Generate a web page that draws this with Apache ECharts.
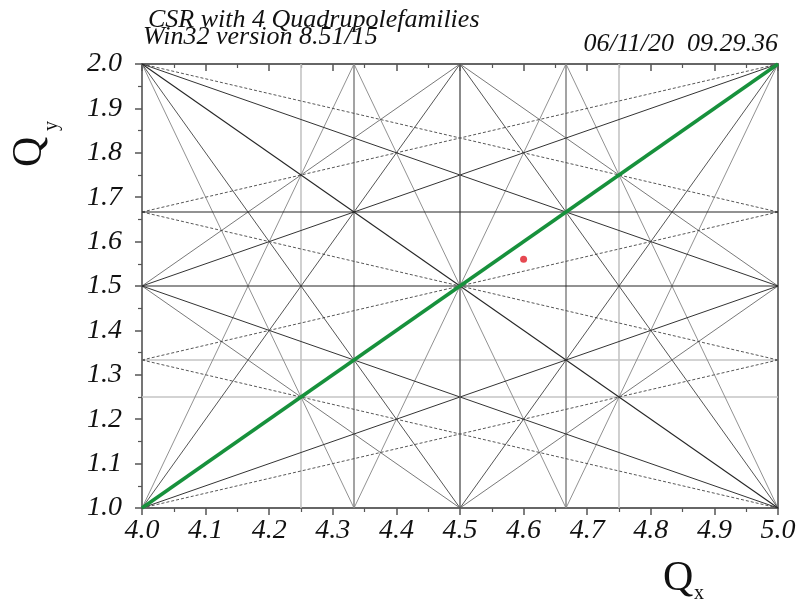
<!DOCTYPE html>
<html>
<head>
<meta charset="utf-8">
<script src="https://cdn.jsdelivr.net/npm/echarts@6.0.0/dist/echarts.min.js"></script>
<style>
  html, body { margin: 0; padding: 0; background: #ffffff; }
  #chart { width: 803px; height: 606px; }
</style>
</head>
<body>
<div id="chart"></div>
<script>
// Tune window shown in the diagram
const qxRange = [4.0, 5.0];
const qyRange = [1.0, 2.0];
const tickStep = 0.1;

// Resonance lines m*Qx + n*Qy = p, grouped by how they are drawn
const darkLines = [[2, 0, 9], [0, 2, 3], [0, 3, 5], [1, 1, 6]];
const thirdOrderVerticals = [[3, 0, 13], [3, 0, 14]];
const paleLines = [[4, 0, 17], [4, 0, 19], [0, 4, 5], [0, 3, 4]];
const qxTwoQyLines = [[1, 2, 7], [1, 2, 8], [1, -2, 1], [1, -2, 2]];
const twoQxQyLines = [[2, 1, 10], [2, 1, 11], [2, -1, 7], [2, -1, 8]];
const diamondLines = [[2, 2, 11], [2, 2, 13], [2, -2, 5], [2, -2, 7]];
const threeQxQyLines = [[3, 1, 14], [3, 1, 15], [3, 1, 16], [3, -1, 11], [3, -1, 12], [3, -1, 13]];
const qxThreeQyLines = [[1, 3, 8], [1, 3, 9], [1, 3, 10], [1, -3, -1], [1, -3, 0], [1, -3, 1]];
const couplingLine = [[1, -1, 3]];

// Working point
const workingPoint = [[4.6, 1.56]];

// Header texts
const titleText = 'CSR with 4 Quadrupolefamilies';
const versionText = 'Win32 version 8.51/15';
const stampText = '06/11/20  09.29.36';

// Segment of a resonance line inside the tune window
function clipResonance(m, n, p) {
  const pts = [];
  const eps = 1e-9;
  if (n !== 0) {
    qxRange.forEach(function (x) {
      const y = (p - m * x) / n;
      if (y >= qyRange[0] - eps && y <= qyRange[1] + eps) pts.push([x, y]);
    });
  }
  if (m !== 0) {
    qyRange.forEach(function (y) {
      const x = (p - n * y) / m;
      if (x >= qxRange[0] - eps && x <= qxRange[1] + eps) pts.push([x, y]);
    });
  }
  const uniq = [];
  pts.forEach(function (pt) {
    if (!uniq.some(function (u) { return Math.abs(u[0] - pt[0]) < 1e-6 && Math.abs(u[1] - pt[1]) < 1e-6; })) uniq.push(pt);
  });
  return uniq.length >= 2 ? [uniq[0], uniq[1]] : null;
}

const series = [];
function addFamily(lines, style, z) {
  lines.forEach(function (c) {
    const seg = clipResonance(c[0], c[1], c[2]);
    if (!seg) return;
    series.push({
      type: 'line',
      data: seg,
      symbol: 'none',
      silent: true,
      animation: false,
      z: z,
      lineStyle: style
    });
  });
}

addFamily(paleLines, { color: '#c4c4c4', width: 1.6 }, 1);
addFamily(thirdOrderVerticals, { color: '#858585', width: 1.5 }, 2);
addFamily(threeQxQyLines, { color: '#858585', width: 0.9 }, 3);
addFamily(diamondLines, { color: '#6a6a6a', width: 0.9 }, 3);
addFamily(twoQxQyLines, { color: '#555555', width: 1 }, 3);
addFamily(qxTwoQyLines, { color: '#333333', width: 1 }, 3);
addFamily(qxThreeQyLines, { color: '#444444', width: 0.9, type: [3, 2] }, 3);
addFamily(darkLines.slice(0, 1), { color: '#5a5a5a', width: 1.4 }, 4);
addFamily(darkLines.slice(1), { color: '#262626', width: 1.1 }, 4);
addFamily(couplingLine, { color: '#17913c', width: 3.6 }, 6);

series.push({
  type: 'scatter',
  data: workingPoint,
  symbol: 'circle',
  symbolSize: 7,
  silent: true,
  animation: false,
  z: 8,
  itemStyle: { color: '#e01a26' }
});

const serifItalic = { fontFamily: 'Liberation Serif', fontStyle: 'italic', color: '#111111' };
const frameLine = { show: true, onZero: false, lineStyle: { color: '#666666', width: 1.8 } };

const chart = echarts.init(document.getElementById('chart'), null, { renderer: 'canvas' });
chart.setOption({
  backgroundColor: '#ffffff',
  animation: false,
  grid: { left: 142, right: 25, top: 64, bottom: 98 },
  xAxis: [
    {
      type: 'value', position: 'bottom', min: qxRange[0], max: qxRange[1], interval: tickStep,
      axisLine: frameLine,
      axisTick: { show: true, inside: false, length: 7, lineStyle: { color: '#555555', width: 1.5 } },
      minorTick: { show: true, splitNumber: 2, length: 4, lineStyle: { color: '#555555', width: 1.2 } },
      splitLine: { show: false },
      axisLabel: Object.assign({ fontSize: 28, margin: 9, formatter: function (v) { return v.toFixed(1); } }, serifItalic)
    },
    {
      type: 'value', position: 'top', min: qxRange[0], max: qxRange[1], interval: tickStep,
      axisLine: frameLine,
      axisTick: { show: true, inside: true, length: 7, lineStyle: { color: '#555555', width: 1.5 } },
      minorTick: { show: true, splitNumber: 2, length: 4, lineStyle: { color: '#555555', width: 1.2 } },
      splitLine: { show: false },
      axisLabel: { show: false }
    }
  ],
  yAxis: [
    {
      type: 'value', position: 'left', min: qyRange[0], max: qyRange[1], interval: tickStep,
      axisLine: frameLine,
      axisTick: { show: true, inside: false, length: 7, lineStyle: { color: '#555555', width: 1.5 } },
      minorTick: { show: true, splitNumber: 2, length: 4, lineStyle: { color: '#555555', width: 1.2 } },
      splitLine: { show: false },
      axisLabel: Object.assign({ fontSize: 28, margin: 20, formatter: function (v) { return v.toFixed(1); } }, serifItalic)
    },
    {
      type: 'value', position: 'right', min: qyRange[0], max: qyRange[1], interval: tickStep,
      axisLine: frameLine,
      axisTick: { show: false },
      splitLine: { show: false },
      axisLabel: { show: false }
    }
  ],
  series: series,
  graphic: [
    { type: 'text', left: 148, top: 7, style: { text: titleText, font: 'italic 26px "Liberation Serif"', fill: '#111111' } },
    { type: 'text', left: 143, top: 24, style: { text: versionText, font: 'italic 26px "Liberation Serif"', fill: '#111111' } },
    { type: 'text', right: 25, top: 31, style: { text: stampText, font: 'italic 26px "Liberation Serif"', fill: '#111111' } },
    { type: 'text', x: 663, y: 558, style: { text: 'Q', font: '42px "Liberation Serif"', fill: '#111111' } },
    { type: 'text', x: 694, y: 584, style: { text: 'x', font: '20px "Liberation Serif"', fill: '#111111' } },
    { type: 'text', x: 9, y: 167, rotation: Math.PI / 2, style: { text: 'Q', font: '42px "Liberation Serif"', fill: '#111111' } },
    { type: 'text', x: 42, y: 131, rotation: Math.PI / 2, style: { text: 'y', font: '20px "Liberation Serif"', fill: '#111111' } }
  ]
});
</script>
</body>
</html>
